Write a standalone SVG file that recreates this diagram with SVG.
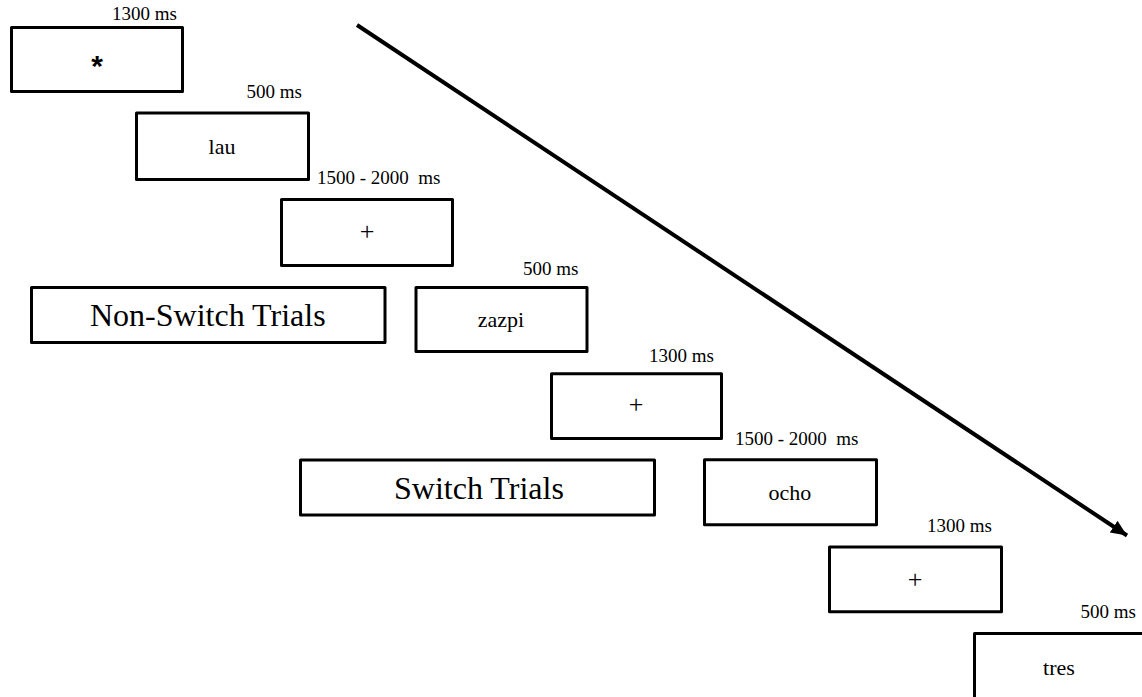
<svg xmlns="http://www.w3.org/2000/svg" width="1142" height="697" viewBox="0 0 1142 697">
<style>
.box{fill:#fff;stroke:#000;stroke-width:3;stroke-linejoin:round}
.lbl{font-family:"Liberation Serif","Times New Roman",serif;font-size:19px;fill:#000;white-space:pre}
.word{font-family:"Liberation Serif","Times New Roman",serif;font-size:22px;fill:#000;text-anchor:middle}
.plus{font-family:"Liberation Serif","Times New Roman",serif;font-size:26px;fill:#000;text-anchor:middle}
.big{font-family:"Liberation Serif","Times New Roman",serif;font-size:32px;fill:#000}
.conn{stroke:#000;stroke-width:4;fill:none}
</style>
<defs>
<marker id="ah" markerUnits="userSpaceOnUse" markerWidth="20" markerHeight="16" refX="16" refY="7" orient="auto">
<polygon points="0,0 16,7 0,14" fill="#000"/>
</marker>
</defs>
<rect width="1142" height="697" fill="#fff"/>
<g id="connectors">
<line class="conn" x1="357" y1="25" x2="1127" y2="535.5" marker-end="url(#ah)"/>
</g>
<g id="fixation-star">
<rect class="box" x="11.5" y="27.5" width="171" height="64"/>
<text class="lbl" x="177" y="20" text-anchor="end">1300 ms</text>
<text x="97" y="76" text-anchor="middle" style="font-family:'Liberation Sans',Arial,sans-serif;font-size:30px;font-weight:bold">*</text>
</g>
<g id="stim-lau">
<rect class="box" x="136.5" y="113" width="172" height="66.5"/>
<text class="lbl" x="302" y="98" text-anchor="end">500 ms</text>
<text class="word" x="222" y="154">lau</text>
</g>
<g id="fix-plus-1">
<rect class="box" x="281.5" y="199.5" width="171" height="66"/>
<text class="lbl" x="317" y="184">1500 - 2000  ms</text>
<text class="plus" x="367" y="240">+</text>
</g>
<g id="non-switch">
<rect class="box" x="31.5" y="287.5" width="353.5" height="55"/>
<text class="big" x="90" y="326">Non-Switch Trials</text>
</g>
<g id="stim-zazpi">
<rect class="box" x="416" y="287.5" width="171" height="64"/>
<text class="lbl" x="578.5" y="275" text-anchor="end">500 ms</text>
<text class="word" x="501" y="327">zazpi</text>
</g>
<g id="fix-plus-2">
<rect class="box" x="551.5" y="373.8" width="170" height="64.7"/>
<text class="lbl" x="714" y="362" text-anchor="end">1300 ms</text>
<text class="plus" x="636" y="413">+</text>
</g>
<g id="switch">
<rect class="box" x="300.5" y="460" width="354" height="55"/>
<text class="big" x="394" y="499">Switch Trials</text>
</g>
<g id="stim-ocho">
<rect class="box" x="704.5" y="459.8" width="172" height="65"/>
<text class="lbl" x="735" y="445">1500 - 2000  ms</text>
<text class="word" x="790" y="500">ocho</text>
</g>
<g id="fix-plus-3">
<rect class="box" x="829.5" y="547" width="172" height="64.8"/>
<text class="lbl" x="992" y="531.5" text-anchor="end">1300 ms</text>
<text class="plus" x="915" y="587.5">+</text>
</g>
<g id="stim-tres">
<rect class="box" x="974.5" y="633.5" width="200" height="100"/>
<text class="lbl" x="1136" y="618" text-anchor="end">500 ms</text>
<text class="word" x="1059" y="675">tres</text>
</g>
</svg>
